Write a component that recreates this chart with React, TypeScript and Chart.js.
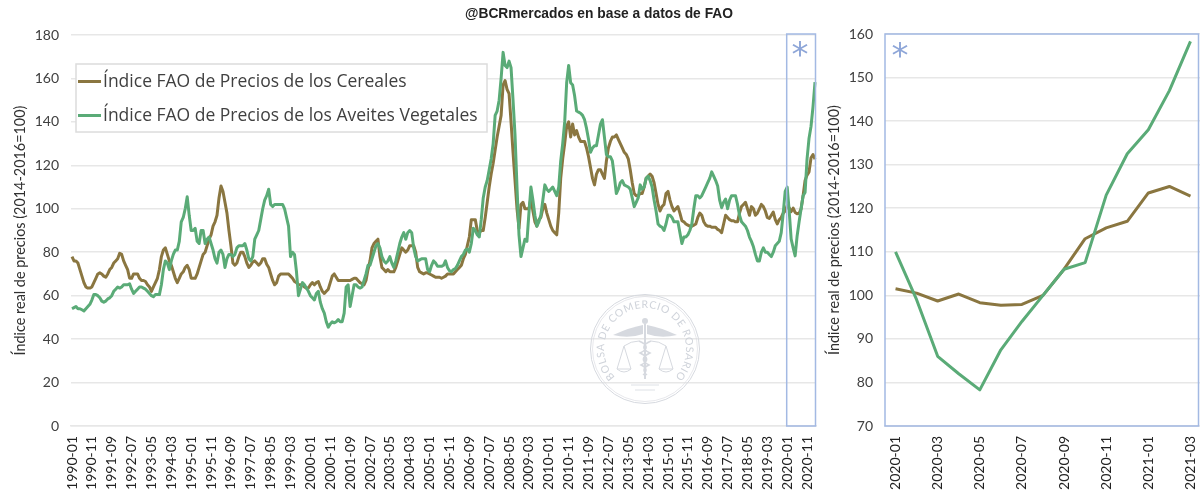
import React, { useEffect, useRef } from "react";
import { Chart, registerables } from "chart.js";

Chart.register(...registerables);

const cerealsHistory = [
  78,76,76,75,72,69,66,64,63.5,63.5,64,66,
  68,70,70.5,70,69,68.5,70,72,73,75,76,77,
  79.5,79,76,74,72,68,68,70,70,70,68,67,
  67,66.5,65,64,62,64,66,68,72,78,81,82,
  79,76,74,71,68,66,68,70,71,73,74,72,
  68,68,68,70,73,76,79,80,83,86,88,92,
  94,97,105,110.5,108,103,98,90,83,75,74,75,
  78,80,80,78,75,73,74,75.5,76,75,74,75,
  77,77,74.5,73,70,67,65,66,69,70,70,70,70,
  70,69,68,66.5,66,65,65,65,64,63.5,63.5,65,
  66,65,66,66.5,64,62,61,62,63,66,69,70,
  68.5,67,67,67,67,67,67,67,67.5,68,68,67,
  66,65.5,65,67,72,76,82,84,85,86,78,73,
  72,71,72,71,71,71,73,76,79,82,81,80,
  81,83,83,83,80,73,71,70.5,70,70.5,70.5,70,
  69.5,69,68.5,68.5,68.5,68,68.5,69,70,70,70,70,
  71,72,73,74,77,79,83,87,95,95,95,90,
  89,90,90,96,103,110,116,121,127,133,138,143,
  157,159,155,153,140,126,113,100,91,102,103,100,
  100,100,105,99,94,92,95,96,100,102,98,95,
  92,90,89,88,98,114,123,130,138,140,133,139,
  134,136,133,131,131,131,128,124,119,114,111,116,118,
  118,116,114,122,128,131,133,133,134,132,130,128,
  126,125,123,118,112,107,106,106,107,107,110,114,
  115,116,115,112,107,102,99,101,102,107,108,104,
  101,99,100,101,98,94.5,94,93,92.5,92,92,92.5,
  93,96,98,97,94,92.5,92,92,91.5,91.5,91.5,90.5,
  90,89,93,97,96,95,94.5,94.5,94,94,98,101,
  102,103,100,97,101,100,97,98,100,102,101,99,
  96,95.5,97,98.5,95,93,95,96,98,99,
];

const oilsHistory = [
  54,54.5,55,54,54,53.5,53,54,55,56,58,60.5,
  60.5,60,59,57.5,57,57.5,58.5,59,60,62,63,64,
  63.5,64,65,65,65,65.5,63,61,62,63,64,64,
  63.5,63,62,61,60,59.5,60.5,60.5,60.5,65,72,76,
  75,72,76,79,81,81,85,94,96,100,105.5,97,
  90,90,91,85,84,90,90,84,86,87,84,81,
  77,75,80,81,79,73,77,79,79,78,79,82,
  83,83,83,84,81,77,76,78,86,88,90,95,
  100,104,106,109,102,101,102,102,102,102,102,100,96,
  92,78,80,79,71,60,63,66,65,63.5,62,60,
  59,58,61,62,57,54,52,48,45.5,47,48,47.5,
  48,49,48,48,52,64,65,55,60,65,65,64,
  63.5,64,67,70,74,74,77,80,83,84,82,78,
  76,75,76,78,75,73,76,80,84,87,89,86,
  89,90,89,82,78,76,76.5,77,77,77,72,71,
  74,76,75,73.5,73.5,73.5,74,76,73,71.5,71,72,
  72.5,74,76,78,79,81,81.5,80,84,91,90,88,
  87,95,105,110,113,118,123,130,143,145,150,160,
  172,166,165,168,165,150,134,110,88,78,82,86,
  85,98,110,104,97,92,94,97,104,111,109,108,
  109,110,108,106,110,122,130,140,158,166,158,157,
  152,145,144.5,144,143,141,137,132,126,128,129,129,134,
  139,141,133,125,124,124,122,115,107,109,112,113,
  111,110.5,110,109,105,101,103,105,111,109,110,114,
  115,113,110,104,99,93,92,91.5,90,93,97,97,
  96,94,94,94,89,84,87,87,88,90,93,100,
  106,106,105,106,108,110,112,114,117,115,113,110.5,
  104,100.5,103,104.5,100,104,106,106,106,102,97,94,
  93,92,90,87,85,82.5,79,76,76,80,82,80,
  80,79,78,80,83,84,85,89,98,108,
];

const cerealsRecent = [101.5,100.5,98.7,100.3,98.3,97.7,97.9,100,106,113,115.5,117,123.5,125,122.8];
const oilsRecent = [110,99,86,82,78.3,87.5,94,100,106,107.5,123,132.5,138,147,158.3];

const cerealsName = "Índice FAO de Precios de los Cereales";
const oilsName = "Índice FAO de Precios de los Aveites Vegetales";
const yAxisName = "Índice real de precios (2014-2016=100)";
const sourceNote = "@BCRmercados en base a datos de FAO";
const monthLabels: string[] = [];
for (let y = 1990; y <= 2021; y++) {
  for (let m = 1; m <= 12; m++) {
    if (y === 2021 && m > 3) break;
    monthLabels.push(`${y}-${String(m).padStart(2, "0")}`);
  }
}
const recentLabels = monthLabels.slice(-15);

const BROWN = "#8a7640";
const GREEN = "#5aab77";
const BLUE = "#a3b9e3";
const GRID = "#e7e7e7";
const TEXT = "#404040";
const FONT = "Lato";

function baseOptions(opts: any): any {
  return {
    responsive: false,
    animation: false,
    events: [],
    layout: { padding: opts.padding },
    plugins: { legend: { display: false }, tooltip: { enabled: false } },
    elements: { point: { radius: 0 }, line: { borderJoinStyle: "round", tension: 0 } },
    scales: {
      x: {
        offset: true,
        grid: { display: false, drawTicks: false },
        border: { display: true, color: GRID, width: 1.5 },
        afterFit: (s: any) => {
          s.height = opts.xHeight;
          s.paddingLeft = 0;
          s.paddingRight = 0;
        },
        ticks: {
          autoSkip: false,
          minRotation: 90,
          maxRotation: 90,
          padding: 10,
          color: "#222222",
          font: { family: FONT, size: 14 },
          callback(this: any, _v: any, i: number) {
            return i % opts.every === 0 ? this.getLabelForValue(i) : null;
          },
        },
      },
      y: {
        min: opts.min,
        max: opts.max,
        afterFit: (s: any) => { s.width = opts.yWidth; },
        ticks: { stepSize: opts.step, padding: 12, color: TEXT, font: { family: FONT, size: 14 } },
        grid: { color: GRID, lineWidth: 1.5, drawTicks: false },
        border: { display: false },
        title: {
          display: true,
          text: yAxisName,
          color: "#303030",
          font: { family: FONT, size: 14.4 },
          padding: { top: opts.titleTop, bottom: 0 },
        },
      },
    },
  };
}

function asterisk(ctx: any, x: number, y: number) {
  ctx.save();
  ctx.fillStyle = "#8ea6d8";
  ctx.font = `34px "DejaVu Sans"`;
  ctx.textAlign = "center";
  ctx.textBaseline = "middle";
  ctx.fillText("*", x, y);
  ctx.restore();
}

const leftOverlay = {
  id: "leftOverlay",
  afterDraw(chart: any) {
    const { ctx, scales } = chart;
    // highlighted window over the recent months
    const x0 = scales.x.getPixelForValue(360) - 0.5;
    const x1 = 815.5;
    const yTop = scales.y.getPixelForValue(180) - 1;
    const yBot = scales.y.getPixelForValue(0);
    ctx.save();
    ctx.strokeStyle = BLUE;
    ctx.lineWidth = 1.5;
    ctx.strokeRect(x0, yTop, x1 - x0, yBot - yTop);
    ctx.restore();
    asterisk(ctx, 800, 57);

    // legend box
    ctx.save();
    ctx.fillStyle = "#ffffff";
    ctx.strokeStyle = "#dcdcdc";
    ctx.lineWidth = 1.5;
    ctx.fillRect(76, 64, 411, 68);
    ctx.strokeRect(76, 64, 411, 68);
    const rows = [
      { name: cerealsName, color: BROWN, y: 81.5 },
      { name: oilsName, color: GREEN, y: 115.5 },
    ];
    for (const r of rows) {
      ctx.strokeStyle = r.color;
      ctx.lineWidth = 3;
      ctx.beginPath();
      ctx.moveTo(78, r.y);
      ctx.lineTo(101, r.y);
      ctx.stroke();
      ctx.fillStyle = "#404040";
      ctx.font = `17.5px "Open Sans"`;
      ctx.textAlign = "left";
      ctx.textBaseline = "middle";
      ctx.fillText(r.name, 103, r.y + 1);
    }
    ctx.restore();
  },
};

const rightOverlay = {
  id: "rightOverlay",
  afterDraw(chart: any) {
    const { ctx, scales } = chart;
    const yTop = scales.y.getPixelForValue(160);
    const yBot = scales.y.getPixelForValue(70);
    ctx.save();
    ctx.strokeStyle = BLUE;
    ctx.lineWidth = 1.5;
    ctx.strokeRect(65, yTop, 378.5 - 65, yBot - yTop);
    ctx.restore();
    asterisk(ctx, 80, 58);
  },
};

function series(cereals: number[], oils: number[], width: number) {
  return [
    { label: cerealsName, data: cereals, borderColor: BROWN, borderWidth: width, order: 2 },
    { label: oilsName, data: oils, borderColor: GREEN, borderWidth: width, order: 1 },
  ];
}

function Seal() {
  const c = "#d6d9df";
  return (
    <svg width="120" height="120" viewBox="-60 -60 120 120"
      style={{ position: "absolute", left: 585, top: 289 }}>
      <defs>
        <path id="sealArc" d="M -30 28 A 41 41 0 1 1 30 28" fill="none" />
      </defs>
      <circle cx="0" cy="0" r="54.5" fill="none" stroke={c} strokeWidth="1" />
      <circle cx="0" cy="0" r="52.5" fill="none" stroke={c} strokeWidth="0.6" />
      <text fill="#cfd3da" fontFamily="Lato" fontSize="10.5">
        <textPath href="#sealArc" startOffset="0" textLength={190}>BOLSA DE COMERCIO DE ROSARIO</textPath>
      </text>
      <path d="M -32 -14 Q -14 -22 -2 -24 L -2 -15 Q -16 -10 -32 -14 Z" fill={c} />
      <path d="M 32 -14 Q 14 -22 2 -24 L 2 -15 Q 16 -10 32 -14 Z" fill={c} />
      <circle cx="0" cy="-28" r="3" fill={c} />
      <line x1="0" y1="-25" x2="0" y2="30" stroke={c} strokeWidth="2" />
      <path d="M -6 -8 Q 8 -2 -5 4 Q 8 10 -4 16 Q 5 20 -2 26 M 6 -8 Q -8 -2 5 4 Q -8 10 4 16 Q -5 20 2 26"
        fill="none" stroke={c} strokeWidth="1.4" />
      <path d="M -6 -8 Q -14 -8 -21 -3 M 6 -8 Q 14 -8 21 -3" fill="none" stroke={c} strokeWidth="1" />
      <path d="M -21 -3 L -28 20 M -21 -3 L -14 20 M -28 20 L -14 20 Q -21 26 -28 20 Z" fill="none" stroke={c} strokeWidth="1" />
      <path d="M 21 -3 L 14 20 M 21 -3 L 28 20 M 14 20 L 28 20 Q 21 26 14 20 Z" fill="none" stroke={c} strokeWidth="1" />
      <line x1="-14" y1="36" x2="14" y2="36" stroke={c} strokeWidth="0.8" />
      <line x1="-10" y1="41" x2="10" y2="41" stroke={c} strokeWidth="0.8" />
    </svg>
  );
}

export default function App() {
  const leftRef = useRef<HTMLCanvasElement>(null);
  const rightRef = useRef<HTMLCanvasElement>(null);

  useEffect(() => {
    const left = new Chart(leftRef.current!, {
      type: "line",
      data: {
        labels: monthLabels,
        datasets: series([...cerealsHistory, ...cerealsRecent], [...oilsHistory, ...oilsRecent], 3),
      },
      options: baseOptions({
        padding: { left: 0, right: 10, top: 35, bottom: 0 },
        xHeight: 67, yWidth: 71, min: 0, max: 180, step: 20, every: 10, titleTop: 12,
      }),
      plugins: [leftOverlay],
    });
    const right = new Chart(rightRef.current!, {
      type: "line",
      data: { labels: recentLabels, datasets: series(cerealsRecent, oilsRecent, 3) },
      options: baseOptions({
        padding: { left: 0, right: 0, top: 34, bottom: 0 },
        xHeight: 67, yWidth: 65, min: 70, max: 160, step: 10, every: 2, titleTop: 6,
      }),
      plugins: [rightOverlay],
    });
    return () => {
      left.destroy();
      right.destroy();
    };
  }, []);

  return (
    <div style={{ position: "fixed", left: 0, top: 0, width: 1200, height: 493, overflow: "hidden", background: "#fff", filter: "blur(0.6px)" }}>
      <canvas ref={leftRef} width={826} height={493} style={{ position: "absolute", left: 0, top: 0 }} />
      <canvas ref={rightRef} width={381} height={493} style={{ position: "absolute", left: 820, top: 0 }} />
      <Seal />
      <div style={{ position: "absolute", left: 400, width: 398, top: 6, textAlign: "center", font: "bold 13.8px 'Liberation Sans'", color: "#222", whiteSpace: "nowrap" }}>
        {sourceNote}
      </div>
    </div>
  );
}
